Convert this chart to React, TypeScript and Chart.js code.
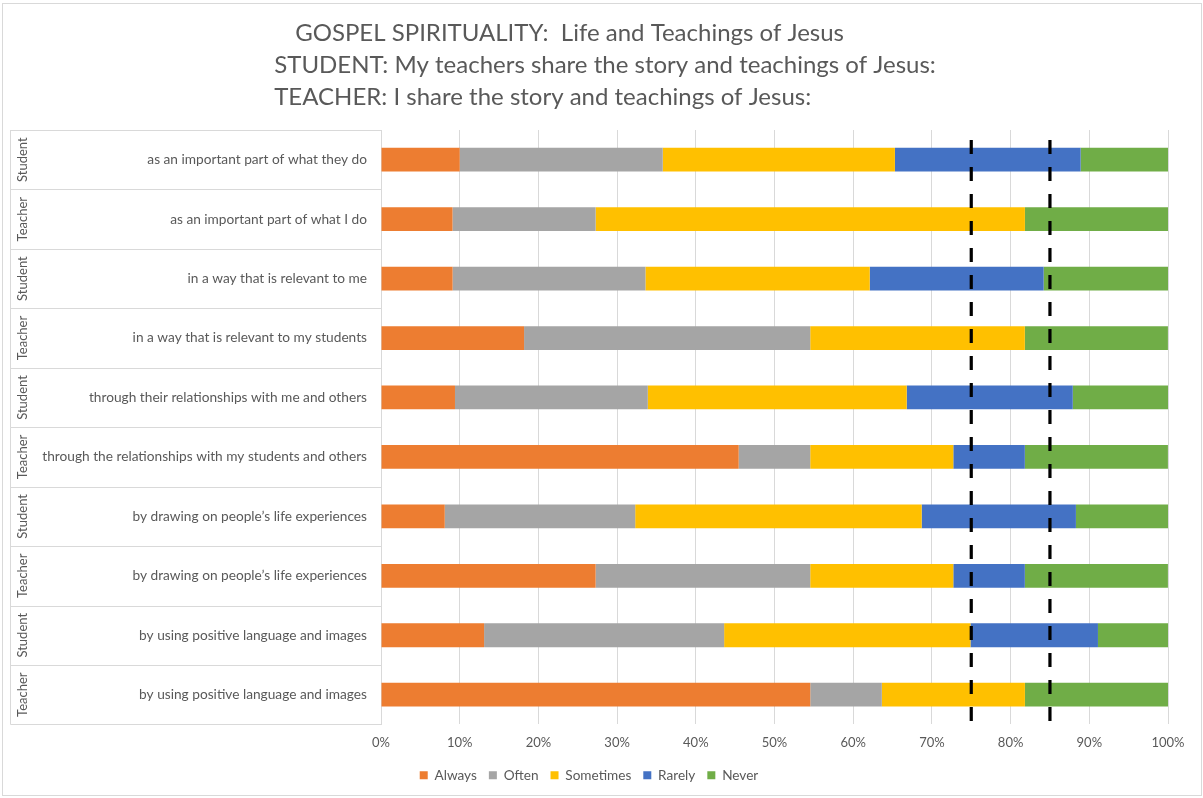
import React, { useEffect, useRef } from 'react';
import { Chart, registerables } from 'chart.js';

Chart.register(...registerables);

const titleLines = [
  'GOSPEL SPIRITUALITY:  Life and Teachings of Jesus',
  'STUDENT: My teachers share the story and teachings of Jesus:',
  'TEACHER: I share the story and teachings of Jesus:',
];

const categories = [
  'as an important part of what they do',
  'as an important part of what I do',
  'in a way that is relevant to me',
  'in a way that is relevant to my students',
  'through their relationships with me and others',
  'through the relationships with my students and others',
  'by drawing on people\u2019s life experiences',
  'by drawing on people\u2019s life experiences',
  'by using positive language and images',
  'by using positive language and images',
];

const groups = ['Student', 'Teacher', 'Student', 'Teacher', 'Student', 'Teacher', 'Student', 'Teacher', 'Student', 'Teacher'];

const seriesNames = ['Always', 'Often', 'Sometimes', 'Rarely', 'Never'];
const seriesColors = ['#ED7D31', '#A5A5A5', '#FFC000', '#4472C4', '#70AD47'];

const always = [10.0, 9.09, 9.1, 18.18, 9.4, 45.45, 8.1, 27.27, 13.1, 54.55];
const often = [25.8, 18.18, 24.5, 36.36, 24.5, 9.09, 24.2, 27.27, 30.5, 9.09];
const sometimes = [29.5, 54.55, 28.5, 27.27, 32.9, 18.18, 36.4, 18.18, 31.3, 18.18];
const rarely = [23.6, 0, 22.1, 0, 21.1, 9.09, 19.6, 9.09, 16.2, 0];
const never = [11.1, 18.18, 15.8, 18.18, 12.1, 18.18, 11.7, 18.18, 8.9, 18.18];

const xTickStep = 10;
const xMin = 0;
const xMax = 100;
const referenceLines = [75, 85];

const TEXT = '#595959';
const GRID = '#D9D9D9';
const FONT = 'Lato';

const decorPlugin = {
  id: 'decor',
  beforeDraw(chart: any) {
    const { ctx, width, height } = chart;
    ctx.save();
    ctx.fillStyle = '#FFFFFF';
    ctx.fillRect(0, 0, width, height);
    ctx.strokeStyle = GRID;
    ctx.lineWidth = 1;
    ctx.strokeRect(2.5, 3.5, width - 4, height - 6);
    ctx.restore();
  },
  afterDraw(chart: any) {
    const { ctx, chartArea } = chart;
    const y = chart.scales.y;
    const n = categories.length;
    const step = (chartArea.bottom - chartArea.top) / n;
    ctx.save();
    ctx.strokeStyle = GRID;
    ctx.lineWidth = 1;
    ctx.beginPath();
    for (let i = 0; i <= n; i++) {
      const yy = Math.round(chartArea.top + i * step) + 0.5;
      ctx.moveTo(10.5, yy);
      ctx.lineTo(chartArea.left, yy);
    }
    ctx.moveTo(10.5, chartArea.top);
    ctx.lineTo(10.5, chartArea.bottom);
    ctx.stroke();
    ctx.fillStyle = TEXT;
    ctx.font = `13px ${FONT}`;
    ctx.textAlign = 'center';
    ctx.textBaseline = 'middle';
    groups.forEach((g, i) => {
      const cy = y.getPixelForValue(i);
      ctx.save();
      ctx.translate(23, cy);
      ctx.rotate(-Math.PI / 2);
      ctx.fillText(g, 0, 0);
      ctx.restore();
    });
    ctx.font = `24px ${FONT}`;
    ctx.textAlign = 'left';
    ctx.textBaseline = 'middle';
    const w2 = ctx.measureText(titleLines[1]).width;
    const left = 605 - w2 / 2;
    ctx.fillText(titleLines[0], left + 21, 33);
    ctx.fillText(titleLines[1], left, 65);
    ctx.fillText(titleLines[2], left, 97);
    ctx.restore();
  },
  afterDatasetsDraw(chart: any) {
    const { ctx, chartArea } = chart;
    const x = chart.scales.x;
    ctx.save();
    ctx.strokeStyle = '#000000';
    ctx.lineWidth = 3.2;
    ctx.setLineDash([14, 13]);
    referenceLines.forEach((v) => {
      const px = x.getPixelForValue(v);
      ctx.beginPath();
      ctx.moveTo(px, chartArea.top + 10);
      ctx.lineTo(px, chartArea.bottom);
      ctx.stroke();
    });
    ctx.restore();
  },
};

export default function App() {
  const ref = useRef<HTMLCanvasElement | null>(null);
  useEffect(() => {
    document.body.style.margin = '0';
    const values = [always, often, sometimes, rarely, never];
    const chart = new Chart(ref.current as HTMLCanvasElement, {
      type: 'bar',
      data: {
        labels: categories,
        datasets: seriesNames.map((name, i) => ({
          label: name,
          data: values[i],
          backgroundColor: seriesColors[i],
          borderWidth: 0,
          barPercentage: 0.4,
          categoryPercentage: 1,
        })),
      },
      options: {
        indexAxis: 'y',
        animation: false,
        responsive: false,
        maintainAspectRatio: false,
        layout: { padding: { left: 10, right: 35, top: 130, bottom: 6 } },
        scales: {
          x: {
            type: 'linear',
            stacked: true,
            min: xMin,
            max: xMax,
            ticks: {
              stepSize: xTickStep,
              color: TEXT,
              font: { family: FONT, size: 13 },
              padding: 11,
              callback: (v: any) => `${v}%`,
            },
            grid: { color: GRID, lineWidth: 1, drawTicks: false },
            border: { display: false },
            afterFit: (s: any) => { s.height = 32; },
          },
          y: {
            type: 'category',
            stacked: true,
            ticks: {
              color: TEXT,
              font: { family: FONT, size: 13.7 },
              padding: 6,
            },
            grid: { display: false },
            border: { display: true, color: GRID },
            afterFit: (s: any) => { s.width = 371; },
          },
        },
        plugins: {
          title: { display: false },
          tooltip: { enabled: false },
          legend: {
            position: 'bottom',
            labels: {
              color: TEXT,
              font: { family: FONT, size: 13.6 },
              boxWidth: 8,
              boxHeight: 8,
              padding: 12,
            },
          },
        },
      },
      plugins: [decorPlugin],
    });
    return () => chart.destroy();
  }, []);
  return (
    <div style={{ position: 'absolute', left: 0, top: 0, width: 1203, height: 798 }}>
      <canvas ref={ref} width={1203} height={798} style={{ width: 1203, height: 798 }} />
    </div>
  );
}
